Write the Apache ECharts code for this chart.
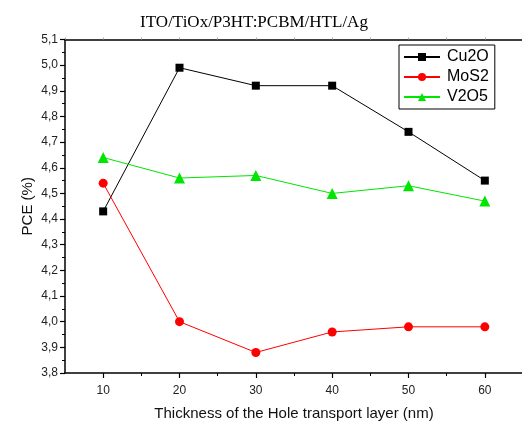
<!DOCTYPE html>
<html>
<head>
<meta charset="utf-8">
<script src="https://cdn.jsdelivr.net/npm/echarts@6/dist/echarts.min.js"></script>
<style>
  html, body { margin: 0; padding: 0; background: #fff; }
  #chart { width: 522px; height: 421px; }
</style>
</head>
<body>
<div id="chart"></div>
<script>
// HTL thickness (nm) and power conversion efficiency (%) per hole transport material
const thickness = [10, 20, 30, 40, 50, 60];
const cu2o = [4.43, 4.99, 4.92, 4.92, 4.74, 4.55];
const mos2 = [4.54, 4.00, 3.88, 3.96, 3.98, 3.98];
const v2o5 = [4.64, 4.56, 4.57, 4.50, 4.53, 4.47];
const xMajorTicks = [10, 20, 30, 40, 50, 60];
const xMinorTicks = [15, 25, 35, 45, 55];

const pairs = ys => thickness.map((x, i) => [x, ys[i]]);
const font = 'Liberation Sans, Arial, sans-serif';

const chart = echarts.init(document.getElementById('chart'));
chart.setOption({
  animation: false,
  backgroundColor: '#fff',
  title: {
    text: 'ITO/TiOx/P3HT:PCBM/HTL/Ag',
    left: 249, top: 9, textAlign: 'center',
    textStyle: { fontFamily: 'Liberation Serif, Times New Roman, serif', fontSize: 17, fontWeight: 'normal', color: '#000' }
  },
  legend: {
    orient: 'vertical',
    left: 399, top: 45,
    padding: [4, 6, 4, 4],
    itemGap: 4,
    itemWidth: 36, itemHeight: 10,
    borderColor: '#000', borderWidth: 1,
    textStyle: { fontFamily: font, fontSize: 16, color: '#000', padding: [0, 0, 0, 2] },
    data: ['Cu2O', 'MoS2', 'V2O5']
  },
  grid: { left: 65, right: -1, top: 39.5, bottom: 48, containLabel: false, outerBoundsMode: 'none' },
  xAxis: [
    {
      type: 'value', min: 5, max: 65, interval: 5,
      axisLine: { lineStyle: { color: '#000', width: 1.5 } },
      axisTick: { customValues: xMajorTicks, length: 5, lineStyle: { color: '#000', width: 1.2 } },
      axisLabel: { customValues: xMajorTicks, fontFamily: font, fontSize: 12, color: '#222', margin: 12 },
      splitLine: { show: false },
      name: 'Thickness of the Hole transport layer (nm)',
      nameLocation: 'middle', nameGap: 33, nameMoveOverlap: false,
      nameTextStyle: { fontFamily: font, fontSize: 15, color: '#111' }
    },
    {
      type: 'value', min: 5, max: 65, interval: 5, position: 'bottom',
      axisLine: { show: false },
      axisTick: { customValues: xMinorTicks, length: 3, lineStyle: { color: '#000', width: 1 } },
      axisLabel: { show: false },
      splitLine: { show: false }
    },
    {
      type: 'value', min: 5, max: 65, interval: 5, position: 'top',
      axisLine: { lineStyle: { color: '#000', width: 1.5 } },
      axisTick: { length: 2, lineStyle: { color: '#aaa', width: 1 } },
      axisLabel: { show: false },
      splitLine: { show: false }
    }
  ],
  yAxis: {
    type: 'value', min: 3.8, max: 5.1, interval: 0.1,
    axisLine: { show: true, lineStyle: { color: '#000', width: 1.5 } },
    axisTick: { length: 5, lineStyle: { color: '#000', width: 1.2 } },
    minorTick: { show: true, splitNumber: 2, length: 3, lineStyle: { color: '#000', width: 1 } },
    axisLabel: {
      fontFamily: font, fontSize: 12, color: '#222', margin: 7,
      formatter: v => v.toFixed(1).replace('.', ',')
    },
    splitLine: { show: false },
    name: 'PCE (%)', nameLocation: 'middle', nameGap: 30, nameMoveOverlap: false,
    nameTextStyle: { fontFamily: font, fontSize: 15, color: '#111' }
  },
  series: [
    {
      name: 'Cu2O', type: 'line', data: pairs(cu2o),
      symbol: 'rect', symbolSize: 8,
      itemStyle: { color: '#000' },
      lineStyle: { color: '#000', width: 1 }
    },
    {
      name: 'MoS2', type: 'line', data: pairs(mos2),
      symbol: 'circle', symbolSize: 9,
      itemStyle: { color: '#ff0000' },
      lineStyle: { color: '#ff0000', width: 1 }
    },
    {
      name: 'V2O5', type: 'line', data: pairs(v2o5),
      symbol: 'triangle', symbolSize: 11,
      itemStyle: { color: '#00e600' },
      lineStyle: { color: '#00e600', width: 1 }
    }
  ]
});
</script>
</body>
</html>
